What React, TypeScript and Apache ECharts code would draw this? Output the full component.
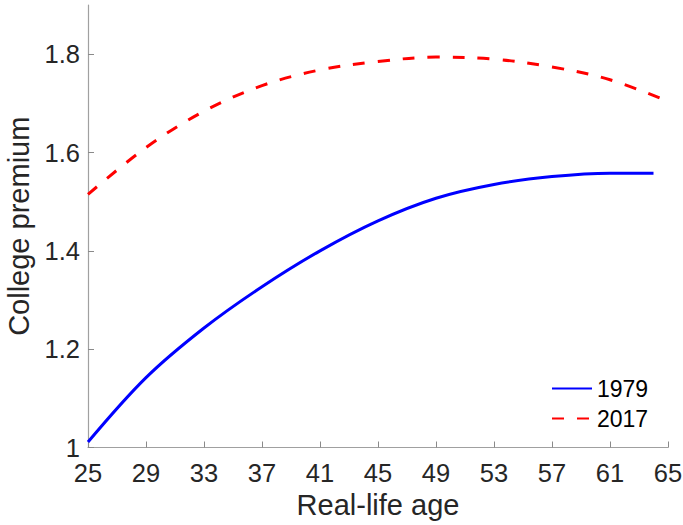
import React, { useEffect, useRef } from "react";
import * as echarts from "echarts";

const ages1979 = [25, 29, 33, 37, 41, 45, 49, 53, 57, 61, 64];
const premium1979 = [1.011, 1.142, 1.243, 1.327, 1.400, 1.461, 1.507, 1.535, 1.551, 1.558, 1.558];
const ages2017 = [25, 29, 33, 37, 41, 45, 49, 53, 57, 61, 65];
const premium2017 = [1.515, 1.610, 1.684, 1.736, 1.768, 1.785, 1.794, 1.790, 1.774, 1.748, 1.704];
const xTicks = [25, 29, 33, 37, 41, 45, 49, 53, 57, 61, 65];
const yTicks = [1, 1.2, 1.4, 1.6, 1.8];

export default function App() {
  const ref = useRef<HTMLDivElement>(null);
  useEffect(() => {
    const chart = echarts.init(ref.current!, null, { renderer: "svg" });
    const font = "Liberation Sans, Arial, Helvetica, sans-serif";
    chart.setOption({
      animation: false,
      grid: { left: 88, right: 15, top: 5, bottom: 77.5, containLabel: false, outerBoundsMode: "none" },
      legend: {
        left: 546,
        top: 372,
        orient: "vertical",
        itemWidth: 40,
        itemHeight: 14,
        itemGap: 7,
        itemStyle: { opacity: 0, borderWidth: 0 },
        textStyle: { fontFamily: font, fontSize: 23, color: "#000" },
        data: ["1979", "2017"],
      },
      xAxis: {
        type: "value",
        min: 25,
        max: 65,
        interval: 4,
        name: "Real-life age",
        nameLocation: "middle",
        nameGap: 43,
        nameTextStyle: { fontFamily: font, fontSize: 29, color: "#262626" },
        axisLine: { lineStyle: { color: "#a0a0a0", width: 1.2 } },
        axisTick: { inside: true, length: 6, lineStyle: { color: "#8a8a8a" } },
        axisLabel: { fontFamily: font, fontSize: 25.5, color: "#262626", margin: 12, customValues: xTicks },
        splitLine: { show: false },
      },
      yAxis: {
        type: "value",
        min: 1,
        max: 1.9,
        interval: 0.2,
        name: "College premium",
        nameLocation: "middle",
        nameGap: 49,
        nameTextStyle: { fontFamily: font, fontSize: 29, color: "#262626" },
        axisLine: { show: true, lineStyle: { color: "#a0a0a0", width: 1.2 } },
        axisTick: { show: true, inside: true, length: 6, lineStyle: { color: "#8a8a8a" }, customValues: yTicks },
        axisLabel: {
          fontFamily: font,
          fontSize: 25.5,
          color: "#262626",
          margin: 8,
          customValues: yTicks,
          formatter: (v: number) => String(Math.round(v * 10) / 10),
        },
        splitLine: { show: false },
      },
      series: [
        {
          name: "1979",
          type: "line",
          data: ages1979.map((a, i) => [a, premium1979[i]]),
          smooth: 0.35,
          symbol: "none",
          lineStyle: { color: "#0000ff", width: 3 },
          itemStyle: { color: "#0000ff" },
        },
        {
          name: "2017",
          type: "line",
          data: ages2017.map((a, i) => [a, premium2017[i]]),
          smooth: 0.35,
          symbol: "none",
          lineStyle: { color: "#ff0000", width: 3, type: [12, 13] },
          itemStyle: { color: "#ff0000" },
        },
      ],
    });
    return () => chart.dispose();
  }, []);
  return <div ref={ref} style={{ width: 683, height: 525, position: "absolute", left: 0, top: 0 }} />;
}
